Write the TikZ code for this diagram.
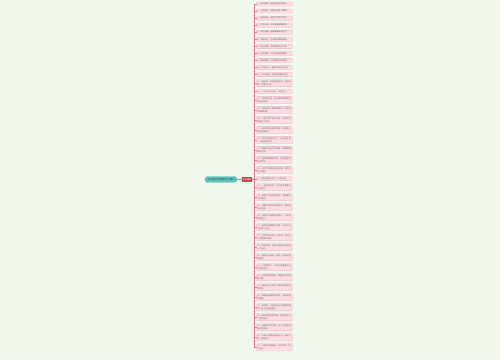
\documentclass[tikz,border=0pt]{standalone}
\usepackage{fontspec}
\newfontfamily\cjk{Noto Sans CJK SC}
\XeTeXlinebreaklocale "zh"
\XeTeXlinebreakskip=0pt plus 0.5pt
\usepackage{tikz}
\usetikzlibrary{positioning}
\definecolor{bgmint}{HTML}{F1F9EF}
\definecolor{rootfill}{HTML}{5CCBC2}
\definecolor{rootline}{HTML}{2FA39A}
\definecolor{midred}{HTML}{E23A4C}
\definecolor{leafpink}{HTML}{FCDDE4}
\definecolor{leafline}{HTML}{F2A9B7}
\definecolor{linkred}{HTML}{E07A88}
\tikzset{
  root node/.style={
    draw=rootline,
    fill=rootfill,
    line width=0.4pt,
    rounded corners=1pt,
    font=\cjk\fontsize{2.5}{3}\selectfont,
    text=black!75,
    inner xsep=1.6pt,
    inner ysep=1.4pt
  },
  mid node/.style={
    fill=midred,
    rounded corners=0.5pt,
    font=\cjk\fontsize{2.2}{3}\selectfont,
    text=white,
    inner xsep=0.8pt,
    inner ysep=1.3pt
  },
  leaf/.style={
    draw=leafline,
    fill=leafpink,
    line width=0.3pt,
    rounded corners=0.4pt,
    font=\cjk\fontsize{2}{3}\selectfont,
    text=black!60,
    text width=34pt,
    align=left,
    inner xsep=0.8pt,
    inner ysep=1.1pt
  },
  link/.style={
    draw=linkred,
    line width=0.4pt
  }
}
\begin{document}
\begin{tikzpicture}[x=1pt, y=1pt]
 \fill[bgmint] (0,0) rectangle (500,-360);
 \useasboundingbox (0,0) rectangle (500,-360);

 \node[root node] (root) at (221,-179.5) {关于春天的唯美句子摘抄};
 \node[mid node] (mid) at (247,-179.5) {句子摘抄};

 \node[leaf, anchor=north west] (l1) at (256.5,-1.8) {1、春风拂面，柳枝轻摇万物复苏。};
 \foreach \t [count=\i from 2] in {
   2、桃花盛开，满园芬芳蜂飞蝶舞。,
   3、细雨如丝，润物无声草木葱茏。,
   4、燕子归来，衔泥筑巢呢喃低语。,
   5、溪水潺潺，唱着春歌奔向远方。,
   6、嫩芽破土，生机盎然满眼新绿。,
   7、春光明媚，百花争艳鸟语花香。,
   8、杏花春雨，江南如画烟雨朦胧。,
   9、暖阳融雪，大地苏醒万象更新。,
   10、草长莺飞，春意正浓杂花生树。,
   11、东风送暖，绿满山野春回大地。,
   12、春天像一位温柔的姑娘，轻轻唤醒了沉睡的大地。,
   13、一年之计在于春，万物生长。,
   14、春雨贵如油，滋润着田野里刚刚冒出的新苗。,
   15、柳树抽出了嫩绿的枝条，在微风中翩翩起舞。,
   16、小草从地下探出头来，好奇地打量着这个世界。,
   17、春天的阳光暖洋洋的，照在身上真是舒服极了。,
   18、满山的杜鹃花开了，远远望去像一片燃烧的红霞。,
   19、蜜蜂在花丛中忙碌着，采集着甜甜的花蜜。,
   20、春天是播种的季节，也是希望开始的季节。,
   21、孩子们在草地上放风筝，笑声传遍了田野。,
   22、春色满园关不住，红杏出墙。,
   23、一场春雨过后，空气里弥漫着泥土的芬芳。,
   24、湖面上泛起层层涟漪，倒映着岸边的垂柳。,
   25、清晨的鸟鸣声此起彼伏，奏响春天的乐章。,
   26、油菜花开成金色的海洋，引来无数的游人。,
   27、春天的夜晚格外宁静，皎洁的月光洒满了小院。,
   28、远处的青山披上了绿装，在阳光下显得格外秀丽。,
   29、梨花似雪，在枝头静静地绽放着一片洁白。,
   30、春风吹过麦田，掀起一层层绿色的波浪。,
   31、小河解冻了，欢快地唱着歌向远方奔流而去。,
   32、花园里姹紫嫣红，蝴蝶在花间翩翩飞舞。,
   33、春天给人们带来了新的希望和新的梦想。,
   34、细细的春雨落在窗前，滴答滴答地响着。,
   35、田野里，农民伯伯正忙着耕地播种，脸上洋溢着笑容。,
   36、春天的脚步悄悄地、轻轻地走近了我们身边。,
   37、迎春花率先开放，向人们报告着春天的消息。,
   38、山坡上的野花星星点点，五颜六色，美丽极了。,
   39、让我们珍惜春光，不负韶华，努力前行。} {
   \pgfmathtruncatemacro\j{\i-1}
   \node[leaf, below=2.65pt of l\j.south west, anchor=north west] (l\i) {\t};
 }

 % links
 \draw[link] (root) -- (mid);
 \foreach \i in {1,...,39}
   \draw[link] (mid.east) -- ++(1.8pt,0) |- (l\i.west);
\end{tikzpicture}
\end{document}
